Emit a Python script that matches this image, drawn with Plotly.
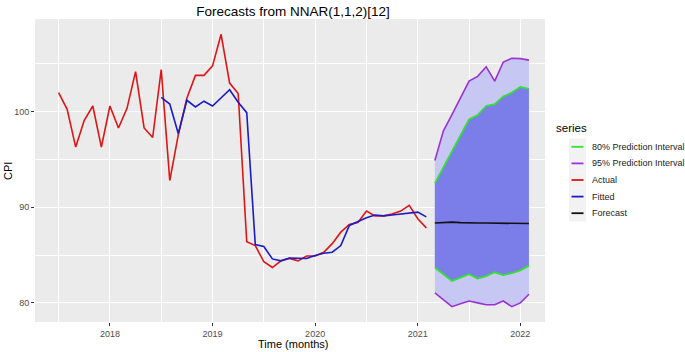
import plotly.graph_objects as go

# ---- data ----
actual_start = (2017, 7)
actual = [102.0, 100.25, 96.3, 99.1, 100.6, 96.3,
          100.6, 98.3, 100.35, 104.2, 98.3, 97.3, 104.4, 92.8, 97.6, 101.4, 103.8, 103.8,
          104.8, 108.1, 103.0, 101.9, 86.4, 86.0, 84.3, 83.7, 84.4, 84.65, 84.4, 84.9,
          84.9, 85.3, 86.2, 87.4, 88.2, 88.4, 89.6, 89.1, 89.1, 89.3, 89.6, 90.2,
          88.8, 87.85]

fitted_start = (2018, 7)
fitted = [101.5, 100.8, 97.7, 101.2, 100.5, 101.1,
          100.6, 101.5, 102.3, 101.0, 99.9, 86.1, 85.9, 84.6, 84.4, 84.7, 84.7, 84.65,
          84.96, 85.2, 85.3, 86.0, 88.1, 88.5, 88.9, 89.2, 89.1, 89.2, 89.3, 89.4,
          89.5, 89.0]

fc_start = (2021, 3)
forecast = [88.35, 88.4, 88.45, 88.4, 88.35, 88.35, 88.35, 88.35, 88.35, 88.3, 88.3, 88.3]
upper80 = [92.5, 94.2, 95.9, 97.6, 99.2, 99.65, 100.6, 100.8, 101.6, 102.0, 102.6, 102.4]
lower80 = [83.7, 83.0, 82.3, 82.65, 83.0, 82.55, 82.8, 83.2, 82.9, 83.1, 83.4, 83.9]
upper95 = [94.9, 98.0, 99.7, 101.5, 103.2, 103.7, 104.7, 103.2, 105.2, 105.6, 105.55, 105.4]
lower95 = [81.05, 80.3, 79.6, 79.9, 80.2, 80.0, 79.8, 79.8, 80.2, 79.6, 80.0, 80.9]

x_ticks = [2018, 2019, 2020, 2021, 2022]
y_ticks = [80, 90, 100]

legend_labels = ["80% Prediction Interval", "95% Prediction Interval", "Actual", "Fitted", "Forecast"]

def months(start, n):
    y, m = start
    return [y + (m - 1 + i) / 12 for i in range(n)]

t_act = months(actual_start, len(actual))
t_fit = months(fitted_start, len(fitted))
t_fc = months(fc_start, len(forecast))

C_RED = "#DD1515"
C_BLUE = "#1C1CC4"
C_GREEN = "#33E033"
C_PURPLE = "#9A32D6"
C_BLACK = "#111111"
F80 = "#7B7EE9"
F95 = "#C6C7F2"
FONT = "Liberation Sans, Arial"
legend_colors = [C_GREEN, C_PURPLE, C_RED, C_BLUE, C_BLACK]

fig = go.Figure()
# ribbons
fig.add_trace(go.Scatter(x=t_fc, y=lower95, mode="lines", line=dict(width=0), hoverinfo="skip"))
fig.add_trace(go.Scatter(x=t_fc, y=upper95, mode="lines", line=dict(width=0),
                         fill="tonexty", fillcolor=F95, hoverinfo="skip"))
fig.add_trace(go.Scatter(x=t_fc, y=lower80, mode="lines", line=dict(width=0), hoverinfo="skip"))
fig.add_trace(go.Scatter(x=t_fc, y=upper80, mode="lines", line=dict(width=0),
                         fill="tonexty", fillcolor=F80, hoverinfo="skip"))
# boundary lines
fig.add_trace(go.Scatter(x=t_fc, y=upper95, mode="lines", line=dict(color=C_PURPLE, width=1.6),
                         name="95% Prediction Interval"))
fig.add_trace(go.Scatter(x=t_fc, y=lower95, mode="lines", line=dict(color=C_PURPLE, width=1.6),
                         name="95% Prediction Interval"))
fig.add_trace(go.Scatter(x=t_fc, y=upper80, mode="lines", line=dict(color=C_GREEN, width=1.8),
                         name="80% Prediction Interval"))
fig.add_trace(go.Scatter(x=t_fc, y=lower80, mode="lines", line=dict(color=C_GREEN, width=1.8),
                         name="80% Prediction Interval"))
fig.add_trace(go.Scatter(x=t_act, y=actual, mode="lines", line=dict(color=C_RED, width=1.6),
                         name="Actual"))
fig.add_trace(go.Scatter(x=t_fit, y=fitted, mode="lines", line=dict(color=C_BLUE, width=1.6),
                         name="Fitted"))
fig.add_trace(go.Scatter(x=t_fc, y=forecast, mode="lines", line=dict(color=C_BLACK, width=1.6),
                         name="Forecast"))

axis_common = dict(
    showline=False, zeroline=False, gridcolor="white", gridwidth=1.1, automargin=False,
    ticks="outside", ticklen=3, tickcolor="#333333", tickwidth=1,
    tickfont=dict(family=FONT, size=9, color="#4D4D4D"),
)
fig.update_xaxes(range=[2017.27, 2022.24], tickvals=x_ticks, ticktext=[str(v) for v in x_ticks],
                 minor=dict(tickvals=[2017.5, 2018.5, 2019.5, 2020.5, 2021.5],
                            gridcolor="white", gridwidth=0.5, ticks=""),
                 ticklabelstandoff=0, **axis_common)
fig.update_yaxes(range=[78.0, 109.7], tickvals=y_ticks, ticktext=[str(v) for v in y_ticks],
                 minor=dict(tickvals=[85, 95, 105], gridcolor="white", gridwidth=0.5, ticks=""),
                 **axis_common)

W, H = 685, 352
L, R, T, B = 35, 140, 19, 30
pw, ph = W - L - R, H - T - B

def px(x):
    return (x - L) / pw

def py(y):
    return (H - B - y) / ph

# axis titles
fig.add_annotation(text="Time (months)", xref="paper", yref="paper",
                   x=px(293), y=py(344), xanchor="center", yanchor="middle",
                   showarrow=False, font=dict(family=FONT, size=11, color="black"))
fig.add_annotation(text="CPI", xref="paper", yref="paper", textangle=-90,
                   x=px(8), y=py(171), xanchor="center", yanchor="middle",
                   showarrow=False, font=dict(family=FONT, size=11, color="black"))

# legend in ggplot style: title, grey key boxes, short line samples, labels
fig.add_annotation(text="series", xref="paper", yref="paper", x=px(554), y=py(128),
                   xanchor="left", yanchor="middle", showarrow=False,
                   font=dict(family=FONT, size=11.5, color="black"))
key_top, key_h = 138.5, 16.6
for i, (lab, col) in enumerate(zip(legend_labels, legend_colors)):
    y0 = key_top + i * key_h
    yc = y0 + key_h / 2
    fig.add_shape(type="rect", xref="paper", yref="paper",
                  x0=px(569), x1=px(586), y0=py(y0), y1=py(y0 + key_h),
                  fillcolor="#F2F2F2", line=dict(width=0), layer="below")
    fig.add_shape(type="line", xref="paper", yref="paper",
                  x0=px(571.5), x1=px(583.5), y0=py(yc), y1=py(yc),
                  line=dict(color=col, width=1.8))
    fig.add_annotation(text=lab, xref="paper", yref="paper", x=px(590), y=py(yc),
                       xanchor="left", yanchor="middle", showarrow=False,
                       font=dict(family=FONT, size=9, color="#1A1A1A"))

fig.update_layout(
    width=W, height=H,
    margin=dict(l=L, r=R, t=T, b=B, autoexpand=False),
    paper_bgcolor="white", plot_bgcolor="#EBEBEB",
    font=dict(family=FONT, color="black"),
    title=dict(text="Forecasts from NNAR(1,1,2)[12]", x=293 / W, xanchor="center",
               y=1 - 11 / H, yanchor="middle",
               font=dict(family=FONT, size=13.5, color="black")),
    showlegend=False,
)

fig.write_html("out.html", config={"displayModeBar": False},
               post_script="document.body.style.margin='0';")
